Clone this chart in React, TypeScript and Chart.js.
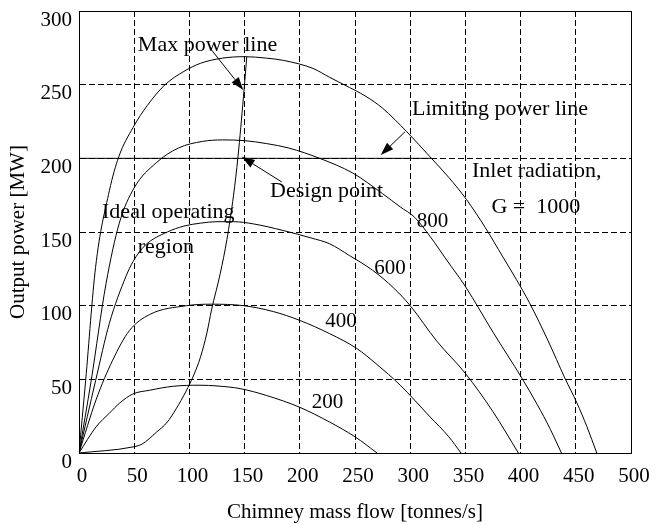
import React, { useEffect, useRef } from "react";
import { Chart, registerables } from "chart.js";

Chart.register(...registerables);

// ---- Data (x: chimney mass flow [tonnes/s], y: output power [MW]) ----
const G200: [number, number][] = [
  [0, 0], [15.4, 17.7], [27.5, 27], [37, 34], [48.6, 40], [64, 42.6], [85.5, 45.3],
  [109.6, 46], [125, 45.5], [146, 43.7], [170, 39], [200, 31], [227, 21], [250, 11], [270, 0],
];
const G400: [number, number][] = [
  [0, 0], [15.4, 36], [30.5, 63], [45.6, 83], [64, 94], [97.5, 100], [120, 101],
  [149, 100], [176, 96], [200, 90], [227, 81], [251.5, 71], [270, 60], [291, 46],
  [318, 24.5], [335, 11], [346, 0],
];
const G600: [number, number][] = [
  [0, 0], [15, 49], [27.5, 88], [42.6, 120], [49, 130], [60, 141], [80, 150], [95, 154],
  [110, 156], [125, 157], [140, 157], [158, 155.5], [185, 151], [210, 146], [227, 142],
  [245, 134], [266, 124], [285, 112], [300, 100], [324, 76], [350, 54], [375, 28], [398, 0],
];
const G800: [number, number][] = [
  [0, 0], [11, 49], [24.5, 115], [36.5, 156], [50, 180], [70, 197], [90, 207],
  [112, 211.5], [130, 212.5], [150, 212], [170, 210], [190, 207], [218, 200], [248, 190],
  [275, 176], [291, 167], [304, 160], [318, 147], [333, 131], [350, 113], [375, 82],
  [401, 51], [415, 33], [427, 16], [437, 0],
];
const G1000: [number, number][] = [
  [0, 0], [6, 49], [15, 126], [27.5, 178], [36, 201], [49, 221], [62, 236], [78, 250],
  [95, 259], [110, 264.5], [130, 268], [150, 269], [170, 268], [185, 266.5], [212, 261],
  [227, 255], [240, 250], [260, 242], [275, 234], [297, 218], [318, 201], [335, 187],
  [351, 172], [368, 153], [384, 133], [396, 118], [408, 102], [425, 76], [440, 51],
  [451, 34], [460, 18], [469, 0],
];
const MAX_POWER_LINE: [number, number][] = [
  [0, 0], [48, 4], [57, 6], [70, 14], [80, 21], [88, 30], [97, 42], [104, 53], [110, 65],
  [116, 82], [120, 97], [128, 122], [134, 145], [140, 175], [144, 201], [149, 242], [152, 269],
];
const LIMITING_POWER_LINE: [number, number][] = [[0, 200], [319.5, 200]];

// annotation texts placed in data coordinates (x, baseline y)
const LABEL_TEXTS = ["Max power line", "Design point", "Limiting power line", "Inlet radiation,", "G =  1000", "800", "600", "400", "200", "Ideal operating", "region"];
const LABEL_X = [116.4, 224.3, 381.3, 414.6, 413.8, 320.2, 281.7, 237.3, 225, 80.9, 78.7];
const LABEL_Y = [272.9, 173.9, 229.4, 187.5, 162.6, 153.5, 121.4, 85.6, 30.8, 159.2, 135.5];

// arrows: tail -> tip in data coordinates
const ARROW_TAIL_X = [118.8, 183.6, 295.3];
const ARROW_TAIL_Y = [274.7, 184, 218];
const ARROW_TIP_X = [148.8, 147.4, 273.3];
const ARROW_TIP_Y = [246.4, 201, 202.2];

const FONT = '"Liberation Serif", "Times New Roman", serif';

const toPts = (arr: [number, number][]) => arr.map(([x, y]) => ({ x, y }));

const overlayPlugin = {
  id: "overlay",
  afterDraw(chart: any) {
    const { ctx, chartArea, scales } = chart;
    const xs = scales.x;
    const ys = scales.y;
    ctx.save();
    ctx.strokeStyle = "#000";
    ctx.lineWidth = 1;
    ctx.setLineDash([]);
    const l = Math.round(chartArea.left) + 0.5;
    const t = Math.round(chartArea.top) + 0.5;
    ctx.strokeRect(l, t, Math.round(chartArea.right) - Math.round(chartArea.left), Math.round(chartArea.bottom) - Math.round(chartArea.top));

    // arrows
    ctx.fillStyle = "#000";
    for (let i = 0; i < ARROW_TIP_X.length; i++) {
      const x0 = xs.getPixelForValue(ARROW_TAIL_X[i]);
      const y0 = ys.getPixelForValue(ARROW_TAIL_Y[i]);
      const x1 = xs.getPixelForValue(ARROW_TIP_X[i]);
      const y1 = ys.getPixelForValue(ARROW_TIP_Y[i]);
      const ang = Math.atan2(y1 - y0, x1 - x0);
      const len = 13;
      const hw = 4.5;
      const bx = x1 - len * Math.cos(ang);
      const by = y1 - len * Math.sin(ang);
      ctx.beginPath();
      ctx.moveTo(x0, y0);
      ctx.lineTo(bx, by);
      ctx.stroke();
      ctx.beginPath();
      ctx.moveTo(x1, y1);
      ctx.lineTo(bx + hw * Math.sin(ang), by - hw * Math.cos(ang));
      ctx.lineTo(bx - hw * Math.sin(ang), by + hw * Math.cos(ang));
      ctx.closePath();
      ctx.fill();
    }

    // texts
    ctx.textAlign = "center";
    ctx.textBaseline = "alphabetic";
    for (let i = 0; i < LABEL_TEXTS.length; i++) {
      const isNum = /^\d+$/.test(LABEL_TEXTS[i]);
      ctx.font = `${isNum ? 21 : 22}px ${FONT}`;
      ctx.fillText(LABEL_TEXTS[i], xs.getPixelForValue(LABEL_X[i]), ys.getPixelForValue(LABEL_Y[i]));
    }
    ctx.restore();
  },
};

export default function App() {
  const ref = useRef<HTMLCanvasElement | null>(null);

  useEffect(() => {
    if (!ref.current) return;
    const lineDs = (label: string, arr: [number, number][], tension = true) => ({
      label,
      data: toPts(arr),
      borderColor: "#000",
      borderWidth: 1,
      pointRadius: 0,
      fill: false,
      cubicInterpolationMode: tension ? ("monotone" as const) : ("default" as const),
      tension: tension ? 0.4 : 0,
    });
    const chart = new Chart(ref.current, {
      type: "line",
      data: {
        datasets: [
          lineDs("G = 200", G200),
          lineDs("G = 400", G400),
          lineDs("G = 600", G600),
          lineDs("G = 800", G800),
          lineDs("G = 1000", G1000),
          lineDs("Max power line", MAX_POWER_LINE),
          lineDs("Limiting power line", LIMITING_POWER_LINE, false),
        ],
      },
      options: {
        animation: false,
        responsive: false,
        maintainAspectRatio: false,
        layout: { padding: { top: 11, right: 33, left: 0, bottom: 0 } },
        plugins: {
          legend: { display: false },
          tooltip: { enabled: false },
        },
        scales: {
          x: {
            type: "linear",
            min: 0,
            max: 500,
            ticks: {
              stepSize: 50,
              color: "#000",
              font: { family: FONT, size: 21 },
              padding: 11,
              labelOffset: 3,
            },
            grid: { color: "#000", lineWidth: 1, drawTicks: false },
            border: { display: true, color: "#000", width: 1, dash: [6, 3] },
            title: {
              display: true,
              text: "Chimney mass flow [tonnes/s]",
              color: "#000",
              font: { family: FONT, size: 21 },
              padding: { top: 0, bottom: 0 },
            },
            afterFit: (s: any) => {
              s.height = 72;
              s.paddingLeft = 0;
              s.paddingRight = 0;
            },
          },
          y: {
            type: "linear",
            min: 0,
            max: 300,
            ticks: {
              stepSize: 50,
              color: "#000",
              font: { family: FONT, size: 21 },
              padding: 7,
              labelOffset: 9,
            },
            grid: { color: "#000", lineWidth: 1, drawTicks: false },
            border: { display: true, color: "#000", width: 1, dash: [6, 3] },
            title: {
              display: true,
              text: "Output power [MW]",
              color: "#000",
              font: { family: FONT, size: 21 },
              padding: { top: 6, bottom: 0 },
            },
            afterFit: (s: any) => {
              s.width = 79;
              s.paddingTop = 0;
              s.paddingBottom = 0;
            },
          },
        },
      },
      plugins: [overlayPlugin],
    });
    return () => chart.destroy();
  }, []);

  return (
    <div style={{ position: "absolute", left: 0, top: 0, width: 664, height: 525, background: "#fff" }}>
      <canvas ref={ref} width={664} height={525} style={{ display: "block" }} />
    </div>
  );
}
